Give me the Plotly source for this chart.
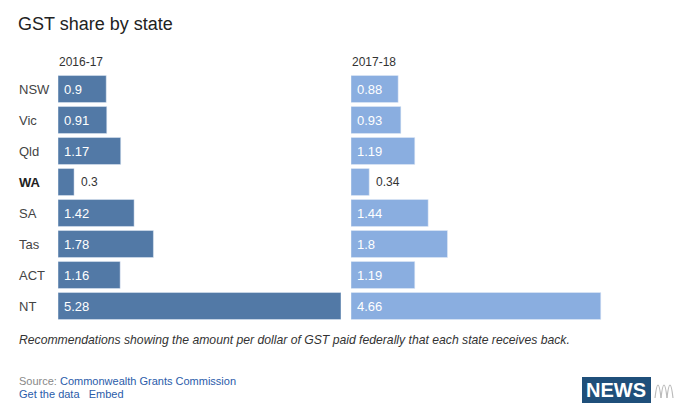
import plotly.graph_objects as go

states = ["NSW", "Vic", "Qld", "WA", "SA", "Tas", "ACT", "NT"]
share_2016 = [0.9, 0.91, 1.17, 0.3, 1.42, 1.78, 1.16, 5.28]
share_2017 = [0.88, 0.93, 1.19, 0.34, 1.44, 1.8, 1.19, 4.66]
period_labels = ["2016-17", "2017-18"]
highlight = "WA"

W, H = 675, 403
FONT = "Liberation Sans, Arial, sans-serif"
C_LEFT = "#5279a6"
C_RIGHT = "#8aaee0"

def px_x(p):
    return p / W

def px_y(p):
    return 1 - p / H

ymin_px, ymax_px = 73.5, 321.5
left0, left1 = 58, 341
right0, right1 = 351, 634
vmax = 5.28

fig = go.Figure()
fig.add_trace(go.Bar(y=states, x=share_2016, orientation="h", marker_color=C_LEFT,
                     xaxis="x", yaxis="y", hoverinfo="x+y", showlegend=False))
fig.add_trace(go.Bar(y=states, x=share_2017, orientation="h", marker_color=C_RIGHT,
                     xaxis="x2", yaxis="y", hoverinfo="x+y", showlegend=False))

ann = []
for series, xref, x0 in [(share_2016, "x", left0), (share_2017, "x2", right0)]:
    for s, v in zip(states, series):
        inside = v * (left1 - left0) / vmax > 30
        ann.append(dict(
            x=0 if inside else v, xref=xref, y=s, yref="y",
            text=str(v), showarrow=False, xanchor="left", yanchor="middle",
            xshift=4 if inside else 5,
            font=dict(family=FONT, size=13 if inside else 12,
                      color="white" if inside else "#333")))

for s in states:
    ann.append(dict(x=px_x(17), xref="paper", y=s, yref="y",
                    text=f"<b>{s}</b>" if s == highlight else s,
                    showarrow=False, xanchor="left", yanchor="middle",
                    font=dict(family=FONT, size=13, color="#222" if s == highlight else "#444")))

for lab, x0 in zip(period_labels, [left0, right0]):
    ann.append(dict(x=px_x(x0 - 1), xref="paper", y=px_y(62), yref="paper", text=lab,
                    showarrow=False, xanchor="left", yanchor="middle",
                    font=dict(family=FONT, size=12, color="#333")))

ann.append(dict(x=px_x(16), xref="paper", y=px_y(24), yref="paper",
                text="GST share by state", showarrow=False, xanchor="left", yanchor="middle",
                font=dict(family=FONT, size=18, color="#222")))
ann.append(dict(x=px_x(17), xref="paper", y=px_y(340), yref="paper",
                text="<i>Recommendations showing the amount per dollar of GST paid federally that each state receives back.</i>",
                showarrow=False, xanchor="left", yanchor="middle",
                font=dict(family=FONT, size=12.2, color="#333")))
ann.append(dict(x=px_x(17), xref="paper", y=px_y(381), yref="paper",
                text="<span style='color:#888'>Source:</span> Commonwealth Grants Commission",
                showarrow=False, xanchor="left", yanchor="middle",
                font=dict(family=FONT, size=11, color="#2a5caa")))
ann.append(dict(x=px_x(17), xref="paper", y=px_y(393.5), yref="paper",
                text="Get the data   Embed",
                showarrow=False, xanchor="left", yanchor="middle",
                font=dict(family=FONT, size=11, color="#2a5caa")))
ann.append(dict(x=px_x(616), xref="paper", y=px_y(390), yref="paper",
                text="<b>NEWS</b>", showarrow=False, xanchor="center", yanchor="middle",
                font=dict(family=FONT, size=20, color="white")))

shapes = [dict(type="rect", xref="paper", yref="paper",
               x0=px_x(582), x1=px_x(651), y0=px_y(403), y1=px_y(377),
               fillcolor="#1f4f7a", line_width=0, layer="below")]
# ABC-style logo (decorative)
for k in range(3):
    xa = 655 + k * 6
    shapes.append(dict(type="path", xref="paper", yref="paper",
                       path=f"M {px_x(xa)},{px_y(398)} Q {px_x(xa+3)},{px_y(372)} {px_x(xa+6)},{px_y(398)}",
                       line=dict(color="#bbbbbb", width=1.2)))

fig.update_layout(
    width=W, height=H, margin=dict(l=0, r=0, t=0, b=0),
    paper_bgcolor="white", plot_bgcolor="white",
    bargap=0.13,
    xaxis=dict(domain=[px_x(left0), px_x(left1)], range=[0, vmax], visible=False, fixedrange=True),
    xaxis2=dict(domain=[px_x(right0), px_x(right1)], range=[0, vmax], visible=False, anchor="y", fixedrange=True),
    yaxis=dict(domain=[px_y(ymax_px), px_y(ymin_px)], range=[7.5, -0.5], visible=False,
               categoryorder="array", categoryarray=states, fixedrange=True),
    annotations=ann, shapes=shapes,
    font=dict(family=FONT),
)

fig.write_html("out.html", config={"displayModeBar": False},
               post_script="document.body.style.margin='0';document.body.style.padding='0';document.body.style.overflow='hidden';")
